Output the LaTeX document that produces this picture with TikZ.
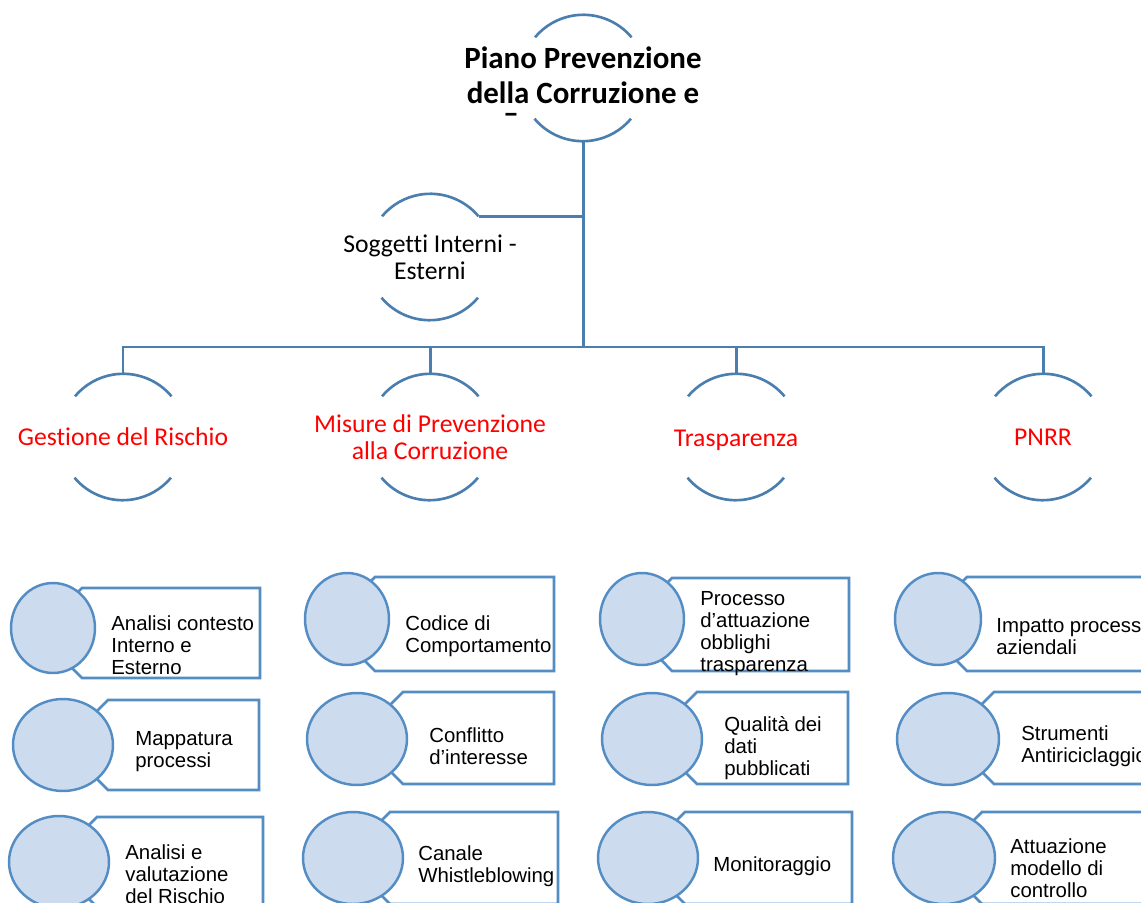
\documentclass[tikz,border=0pt]{standalone}
\usepackage{fontspec}
\setmainfont{Carlito}[Ligatures=NoCommon]
\newfontfamily\arialfont{Liberation Sans}[Ligatures=NoCommon]
\usepackage{tikz}
\usetikzlibrary{shapes.geometric, calc}

\definecolor{linkblue}{RGB}{74,126,175}
\definecolor{dotblue}{RGB}{84,141,196}
\definecolor{dotfill}{RGB}{204,220,238}

\begin{document}
\begin{tikzpicture}[
    x=0.02cm, y=-0.02cm,
    % Define styles
    hub/.style={circle, minimum size=2.52cm, inner sep=0pt},
    hubarc/.style={draw=linkblue, line width=1.5pt},
    link/.style={draw=linkblue, line width=1.7pt},
    titletext/.style={align=center, inner sep=0pt, font=\bfseries\fontsize{17.6}{19.8}\selectfont},
    topictext/.style={align=center, inner sep=0pt, font=\fontsize{14.6}{15.3}\selectfont},
    dot/.style={ellipse, draw=dotblue, line width=1.4pt, fill=dotfill, inner sep=0pt},
    tagbox/.style={draw=dotblue, line width=1.5pt, fill=white},
    itemtext/.style={anchor=west, align=left, inner sep=0pt, font=\arialfont\fontsize{11.6}{12.5}\selectfont}
]

    \useasboundingbox (0,0) rectangle (1141,902);
    \clip (0,0) rectangle (1141,902);
    \fill[white] (0,0) rectangle (1141,902);

    % 1. The root of the plan
    \node[hub] (root) at (583,78) {};
    \node[titletext] (roottxt) at (583,75) {Piano Prevenzione\\della Corruzione e};
    \node[titletext] (roottail) at (511,118) {–};
    \draw[hubarc] (root.40) arc[start angle=40, end angle=140, radius=1.26cm];
    \draw[hubarc] (root.220) arc[start angle=220, end angle=320, radius=1.26cm];

    % 2. Side branch
    \node[hub] (sogg) at (430,257) {};
    \node[topictext] (soggtxt) at (sogg.center) {Soggetti Interni -\\Esterni};
    \draw[hubarc] (sogg.40) arc[start angle=40, end angle=140, radius=1.26cm];
    \draw[hubarc] (sogg.220) arc[start angle=220, end angle=320, radius=1.26cm];

    % 3. The four areas
    \node[hub] (gest) at (123,437) {};
    \node[hub] (misure) at (430,437) {};
    \node[hub] (trasp) at (736,437) {};
    \node[hub] (pnrr) at (1043,437) {};
    \node[topictext, text=red] (gesttxt) at (gest.center) {Gestione del Rischio};
    \node[topictext, text=red] (misuretxt) at (misure.center) {Misure di Prevenzione\\alla Corruzione};
    \node[topictext, text=red] (trasptxt) at ($(trasp.center)+(0,3)$) {Trasparenza};
    \node[topictext, text=red] (pnrrtxt) at (pnrr.center) {PNRR};
    \draw[hubarc] (gest.40) arc[start angle=40, end angle=140, radius=1.26cm];
    \draw[hubarc] (gest.220) arc[start angle=220, end angle=320, radius=1.26cm];
    \draw[hubarc] (misure.40) arc[start angle=40, end angle=140, radius=1.26cm];
    \draw[hubarc] (misure.220) arc[start angle=220, end angle=320, radius=1.26cm];
    \draw[hubarc] (trasp.40) arc[start angle=40, end angle=140, radius=1.26cm];
    \draw[hubarc] (trasp.220) arc[start angle=220, end angle=320, radius=1.26cm];
    \draw[hubarc] (pnrr.40) arc[start angle=40, end angle=140, radius=1.26cm];
    \draw[hubarc] (pnrr.220) arc[start angle=220, end angle=320, radius=1.26cm];

    % 4. Connections
    \coordinate (bus) at (583,347);
    \draw[link] (root.south) -- (bus);
    \draw[link] (sogg.40) -- (sogg.40 -| root.south);
    \draw[link] (gest.north) |- (pnrr.north |- bus) -- (pnrr.north);
    \draw[link] (misure.north) -- (misure.north |- bus);
    \draw[link] (trasp.north) -- (trasp.north |- bus);

    % 5. Gestione del Rischio items
    \draw[tagbox] (82,588) -- (260,588) -- (260,678) -- (82,678) -- (37,633) -- cycle;
    \node[dot, minimum width=1.68cm, minimum height=1.8cm] (g1dot) at (53,628) {};
    \node[itemtext] (g1txt) at (111,645) {Analisi contesto\\Interno e\\Esterno};

    \draw[tagbox] (108,700) -- (259,700) -- (259,790) -- (108,790) -- (63,745) -- cycle;
    \node[dot, minimum width=2cm, minimum height=1.84cm] (g2dot) at (63,745) {};
    \node[itemtext] (g2txt) at (135,752) {Mappatura\\processi};

    \draw[tagbox] (97,817) -- (263,817) -- (263,907) -- (97,907) -- (52,862) -- cycle;
    \node[dot, minimum width=2cm, minimum height=1.84cm] (g3dot) at (59,862) {};
    \node[itemtext] (g3txt) at (125,874) {Analisi e\\valutazione\\del Rischio};

    % 6. Misure di Prevenzione items
    \draw[tagbox] (375,577) -- (554,577) -- (554,671) -- (375,671) -- (328,624) -- cycle;
    \node[dot, minimum width=1.68cm, minimum height=1.84cm] (m1dot) at (347,619) {};
    \node[itemtext] (m1txt) at (405,636) {Codice di\\Comportamento};

    \draw[tagbox] (403,692) -- (554,692) -- (554,784) -- (403,784) -- (357,738) -- cycle;
    \node[dot, minimum width=2cm, minimum height=1.84cm] (m2dot) at (357,739) {};
    \node[itemtext] (m2txt) at (429,746) {Conflitto\\d’interesse};

    \draw[tagbox] (390,812) -- (558,812) -- (558,904) -- (390,904) -- (344,858) -- cycle;
    \node[dot, minimum width=2cm, minimum height=1.84cm] (m3dot) at (353,858) {};
    \node[itemtext] (m3txt) at (418,866) {Canale\\Whistleblowing};

    % 7. Trasparenza items
    \draw[tagbox] (672,578) -- (849,578) -- (849,671) -- (672,671) -- (626,624) -- cycle;
    \node[dot, minimum width=1.68cm, minimum height=1.84cm] (t1dot) at (642,619) {};
    \node[itemtext] (t1txt) at (700,634) {Processo\\d’attuazione\\obblighi\\trasparenza};

    \draw[tagbox] (697,692) -- (848,692) -- (848,784) -- (697,784) -- (651,738) -- cycle;
    \node[dot, minimum width=2cm, minimum height=1.84cm] (t2dot) at (652,739) {};
    \node[itemtext] (t2txt) at (724,748) {Qualità dei\\dati\\pubblicati};

    \draw[tagbox] (685,812) -- (852,812) -- (852,904) -- (685,904) -- (639,858) -- cycle;
    \node[dot, minimum width=2cm, minimum height=1.84cm] (t3dot) at (648,858) {};
    \node[itemtext] (t3txt) at (713,866) {Monitoraggio};

    % 8. PNRR items
    \draw[tagbox] (967,577) -- (1160,577) -- (1160,671) -- (967,671) -- (920,624) -- cycle;
    \node[dot, minimum width=1.72cm, minimum height=1.84cm] (p1dot) at (938,619) {};
    \node[itemtext] (p1txt) at (996,636) {Impatto processi\\aziendali};

    \draw[tagbox] (994,692) -- (1160,692) -- (1160,784) -- (994,784) -- (948,738) -- cycle;
    \node[dot, minimum width=2.04cm, minimum height=1.84cm] (p2dot) at (948,739) {};
    \node[itemtext] (p2txt) at (1021,746) {Strumenti\\Antiriciclaggio};

    \draw[tagbox] (982,812) -- (1160,812) -- (1160,904) -- (982,904) -- (936,858) -- cycle;
    \node[dot, minimum width=2.04cm, minimum height=1.84cm] (p3dot) at (944,858) {};
    \node[itemtext] (p3txt) at (1010,868) {Attuazione\\modello di\\controllo};

\end{tikzpicture}
\end{document}
